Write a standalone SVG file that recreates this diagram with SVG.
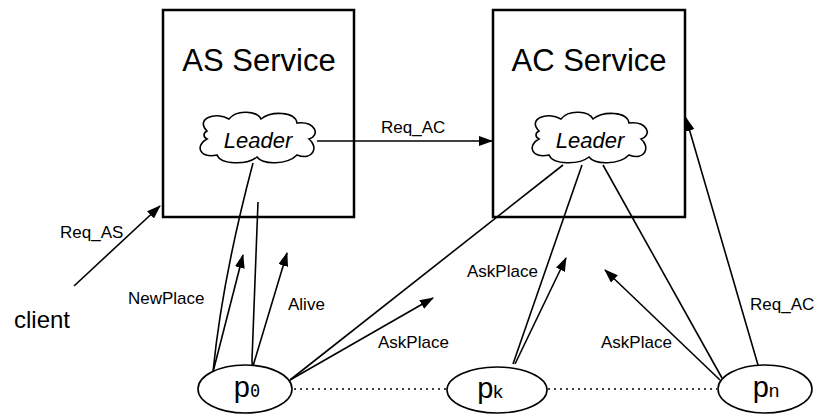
<svg xmlns="http://www.w3.org/2000/svg" width="814" height="415" viewBox="0 0 814 415">
<style>
.box{fill:#fff;stroke:#000;stroke-width:2.5}
.cl{fill:#fff;stroke:#000;stroke-width:1.6}
.ln{fill:none;stroke:#000;stroke-width:1.6}
.ar{fill:none;stroke:#000;stroke-width:1.6;marker-end:url(#ah)}
.dot{fill:none;stroke:#000;stroke-width:1.6;stroke-dasharray:2 4}
.el{fill:#fff;stroke:#000;stroke-width:1.6}
text{font-family:"Liberation Sans",Arial,sans-serif;fill:#000}
.title{font-size:31px;text-anchor:middle}
.lead{font-size:22px;font-style:italic;text-anchor:middle}
.lbl{font-size:17px}
.mono{font-family:"DejaVu Sans Mono",monospace}
</style>
<defs>
<marker id="ah" viewBox="0 0 14 10" refX="13" refY="5" markerWidth="14" markerHeight="10" markerUnits="userSpaceOnUse" orient="auto">
<path d="M0,0 L14,5 L0,10 Z" fill="#000"/>
</marker>
<path id="cloud" d="M-50,-8 C-62,-20 -42,-28 -28,-20 C-20,-30 0,-28 4,-20 C14,-28 38,-28 40,-16 C58,-18 64,-4 52,0 C62,8 56,22 40,16 C30,26 6,26 0,18 C-10,26 -36,26 -40,16 C-58,20 -62,6 -50,0 C-54,-2 -54,-6 -50,-8 Z"/>
</defs>

<g id="as-service">
<rect class="box" x="163" y="10" width="191" height="207"/>
<text class="title" x="259" y="71">AS Service</text>
</g>
<g id="ac-service">
<rect class="box" x="493" y="10" width="192" height="207"/>
<text class="title" x="589" y="71">AC Service</text>
</g>
<g id="as-leader">
<use href="#cloud" class="cl" transform="translate(257,139)"/>
<text class="lead" x="258" y="148">Leader</text>
</g>
<g id="ac-leader">
<use href="#cloud" class="cl" transform="translate(589,139)"/>
<text class="lead" x="590" y="148">Leader</text>
</g>

<g id="connectors">
<line class="ar" x1="317" y1="141" x2="492" y2="141"/>
<line class="ar" x1="74" y1="286" x2="160" y2="206"/>
<path class="ln" d="M253,163 Q222,280 213,372"/>
<line class="ar" x1="213" y1="372" x2="243" y2="255"/>
<path class="ln" d="M258,202 L252,360 Q252,365 253,366"/>
<line class="ar" x1="253" y1="366" x2="287" y2="253"/>
<line class="ln" x1="290" y1="380" x2="563" y2="165"/>
<line class="ar" x1="290" y1="380" x2="433" y2="298"/>
<line class="ln" x1="513" y1="364" x2="582" y2="165"/>
<line class="ar" x1="515" y1="364" x2="566" y2="258"/>
<line class="ln" x1="722" y1="378" x2="603" y2="165"/>
<line class="ar" x1="720" y1="380" x2="605" y2="270"/>
<line class="ar" x1="758" y1="365" x2="686" y2="118"/>
<line class="dot" x1="294" y1="389" x2="446" y2="389"/>
<line class="dot" x1="548" y1="389" x2="717" y2="389"/>
<text class="lbl" x="381" y="133">Req_AC</text>
<text class="lbl" x="60" y="238">Req_AS</text>
<text class="lbl" x="128" y="304">NewPlace</text>
<text class="lbl" x="288" y="310">Alive</text>
<text class="lbl" x="378" y="348">AskPlace</text>
<text class="lbl" x="467" y="277">AskPlace</text>
<text class="lbl" x="601" y="348">AskPlace</text>
<text class="lbl" x="750" y="310">Req_AC</text>
</g>

<g id="client">
<text x="14" y="328" font-size="24">client</text>
</g>
<g id="p0">
<ellipse class="el" cx="245" cy="389" rx="47" ry="24"/>
<text x="247" y="397" text-anchor="middle"><tspan font-size="29">p</tspan><tspan class="mono" font-size="17">0</tspan></text>
</g>
<g id="pk">
<ellipse class="el" cx="497" cy="390" rx="50" ry="23"/>
<text x="490" y="398" text-anchor="middle"><tspan font-size="29">p</tspan><tspan font-size="19">k</tspan></text>
</g>
<g id="pn">
<ellipse class="el" cx="765" cy="389" rx="47" ry="24"/>
<text x="766" y="397" text-anchor="middle"><tspan font-size="29">p</tspan><tspan font-size="19">n</tspan></text>
</g>
</svg>
